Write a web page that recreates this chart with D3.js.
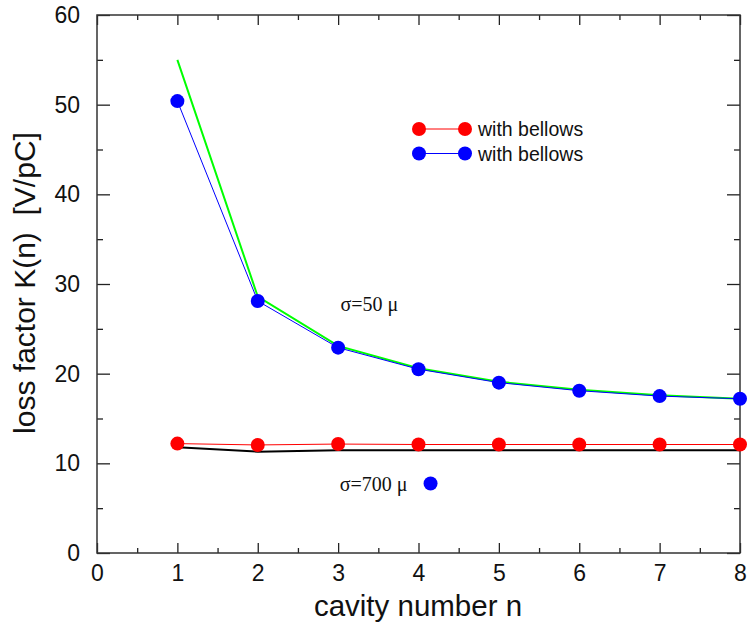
<!DOCTYPE html>
<html>
<head>
<meta charset="utf-8">
<script src="https://cdn.jsdelivr.net/npm/d3@7"></script>
<style>
  body { margin: 0; background: #fff; }
  text { font-family: "Liberation Sans", Arial, sans-serif; }
  .serif { font-family: "Liberation Serif", "Times New Roman", serif; }
</style>
</head>
<body>
<div id="chart"></div>
<script>
// data
const cavity = [1, 2, 3, 4, 5, 6, 7, 8];
const red700 = [12.2, 12.05, 12.15, 12.1, 12.1, 12.1, 12.1, 12.1];
const black700 = [11.8, 11.3, 11.45, 11.45, 11.45, 11.45, 11.45, 11.45];
const blue50 = [50.4, 28.1, 22.9, 20.5, 19.0, 18.1, 17.5, 17.2];
const green50 = [55.0, 28.6, 23.1, 20.6, 19.1, 18.2, 17.6, 17.2];
const xTicks = [0, 1, 2, 3, 4, 5, 6, 7, 8];
const yTicks = [0, 10, 20, 30, 40, 50, 60];
const extraDot = {n: 4.15, k: 7.75};
const legendLabels = ["with bellows", "with bellows"];

const W = 748, H = 629;
const margin = {top: 15, right: 8, bottom: 76, left: 97};
const width = W - margin.left - margin.right;
const height = H - margin.top - margin.bottom;

const svg = d3.select("#chart").append("svg")
    .attr("width", W).attr("height", H);
const g = svg.append("g")
    .attr("transform", "translate(" + margin.left + "," + margin.top + ")");

const x = d3.scaleLinear().domain([0, 8]).range([0, width]);
const y = d3.scaleLinear().domain([0, 60]).range([height, 0]);

const xMinor = d3.range(0.5, 8, 1);
const yMinor = d3.range(5, 60, 10);

// ticks pointing inward on all four sides
function ticks(axisFn, scale, vals, len, transform) {
    const a = g.append("g").attr("transform", transform)
        .call(axisFn(scale).tickValues(vals).tickSize(-len).tickFormat(""));
    a.select(".domain").remove();
    a.selectAll("line").attr("stroke", "#222").attr("stroke-width", 1.3);
}
ticks(d3.axisBottom, x, xTicks, 10, "translate(0," + height + ")");
ticks(d3.axisBottom, x, xMinor, 5, "translate(0," + height + ")");
ticks(d3.axisTop, x, xTicks, 10, "translate(0,0)");
ticks(d3.axisTop, x, xMinor, 5, "translate(0,0)");
ticks(d3.axisLeft, y, yTicks, 13, "translate(0,0)");
ticks(d3.axisLeft, y, yMinor, 6, "translate(0,0)");
ticks(d3.axisRight, y, yTicks, 13, "translate(" + width + ",0)");
ticks(d3.axisRight, y, yMinor, 6, "translate(" + width + ",0)");

g.append("rect")
    .attr("width", width).attr("height", height)
    .attr("fill", "none").attr("stroke", "#333").attr("stroke-width", 1.5);

// tick labels
const xAx = g.append("g").attr("transform", "translate(0," + height + ")")
    .call(d3.axisBottom(x).tickValues(xTicks).tickSize(0).tickPadding(12).tickFormat(d3.format("d")));
xAx.select(".domain").remove();
xAx.selectAll("text").attr("font-size", 23).attr("fill", "#111")
    .style("font-family", "'Liberation Sans', Arial, sans-serif");

const yAx = g.append("g")
    .call(d3.axisLeft(y).tickValues(yTicks).tickSize(0).tickPadding(17).tickFormat(d3.format("d")));
yAx.select(".domain").remove();
yAx.selectAll("text").attr("font-size", 23).attr("fill", "#111")
    .style("font-family", "'Liberation Sans', Arial, sans-serif");

// axis titles
svg.append("text")
    .attr("x", 418).attr("y", 616)
    .attr("text-anchor", "middle").attr("font-size", 29.5).attr("fill", "#111")
    .text("cavity number n");
svg.append("text")
    .attr("transform", "translate(35,283) rotate(-90)")
    .attr("text-anchor", "middle").attr("font-size", 30).attr("fill", "#111")
    .style("white-space", "pre")
    .text("loss factor K(n)  [V/pC]");

// lines
const line = d3.line().x((d, i) => x(cavity[i])).y(d => y(d));
function drawLine(vals, color, w) {
    g.append("path").datum(vals)
        .attr("fill", "none").attr("stroke", color).attr("stroke-width", w)
        .attr("d", line);
}
drawLine(black700, "#000", 2);
drawLine(red700, "#ff0000", 1);
drawLine(green50, "#00ff00", 2);
drawLine(blue50, "#0000ff", 1);

function drawDots(vals, color) {
    g.selectAll(null).data(vals).enter().append("circle")
        .attr("cx", (d, i) => x(cavity[i])).attr("cy", d => y(d))
        .attr("r", 7).attr("fill", color);
}
drawDots(red700, "#ff0000");
drawDots(blue50, "#0000ff");

g.append("circle")
    .attr("cx", x(extraDot.n)).attr("cy", y(extraDot.k))
    .attr("r", 7).attr("fill", "#0000ff");

// annotations
g.append("text").attr("class", "serif")
    .attr("x", x(3.03)).attr("y", y(27.0))
    .attr("font-size", 20).attr("fill", "#111")
    .text("σ=50 μ");
g.append("text").attr("class", "serif")
    .attr("x", x(3.02)).attr("y", y(6.95))
    .attr("font-size", 20).attr("fill", "#111")
    .text("σ=700 μ");

// legend
const legend = g.append("g").attr("transform", "translate(" + (419 - margin.left) + "," + (129 - margin.top) + ")");
[["#ff0000", 1], ["#0000ff", 1]].forEach((c, i) => {
    const row = legend.append("g").attr("transform", "translate(0," + i * 24.5 + ")");
    row.append("line").attr("x1", 0).attr("x2", 46).attr("stroke", c[0]).attr("stroke-width", c[1]);
    row.append("circle").attr("cx", 0).attr("r", 7).attr("fill", c[0]);
    row.append("circle").attr("cx", 46).attr("r", 7).attr("fill", c[0]);
    row.append("text").attr("x", 59).attr("y", 7)
        .attr("font-size", 19.5).attr("fill", "#111")
        .text(legendLabels[i]);
});
</script>
</body>
</html>
